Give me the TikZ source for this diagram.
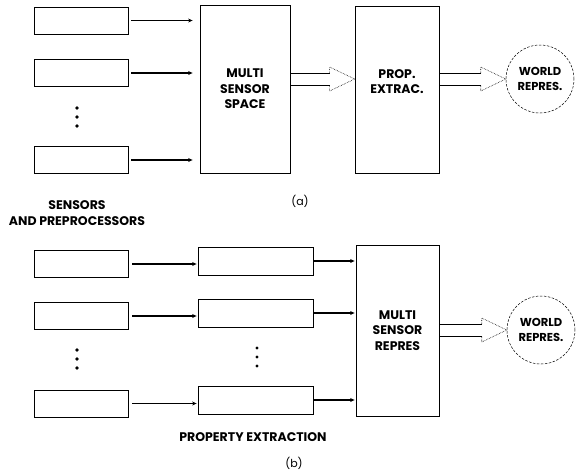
\documentclass[tikz,border=0pt]{standalone}
\usepackage{fontspec}
\setmainfont{Poppins}
\usetikzlibrary{calc,arrows.meta}
\tikzset{
  sensbox/.style={rectangle, draw, line width=0.8pt, minimum width=94pt, minimum height=27pt, inner sep=0pt},
  propbox/.style={rectangle, draw, line width=0.8pt, minimum width=115pt, minimum height=28pt, inner sep=0pt},
  bigbox/.style={rectangle, draw, line width=0.8pt, align=center, font=\fontsize{12.5}{15.5}\selectfont\bfseries, inner sep=0pt},
  worldnode/.style={circle, draw, dashed, dash pattern=on 2.5pt off 1.5pt, line width=0.5pt, minimum size=68pt, align=center, font=\fontsize{11.5}{15}\selectfont\bfseries, inner sep=0pt},
  labeltext/.style={align=center, font=\fontsize{12.5}{16}\selectfont\bfseries, inner sep=0pt},
  capttext/.style={font=\fontsize{11}{12}\selectfont, inner sep=0pt},
  feedarrow/.style={-{Stealth[length=4.5pt,width=4pt]}, line width=1.2pt},
  fatline/.style={line width=0.8pt},
  fathead/.style={line width=0.6pt, densely dotted},
}
% hollow arrow: from #1 to #2 at the height of #3
\newcommand{\fatarrow}[3]{%
  \draw[fatline] ($(#1.east |- #3)+(0,6pt)$) -- ($(#2.west |- #3)+(-25pt,6pt)$);
  \draw[fatline] ($(#1.east |- #3)+(0,-6pt)$) -- ($(#2.west |- #3)+(-25pt,-6pt)$);
  \draw[fathead] ($(#2.west |- #3)+(-25pt,6pt)$) -- ++(0,6pt) -- (#2.west |- #3)
    -- ($(#2.west |- #3)+(-25pt,-12pt)$) -- ++(0,6pt);
}
\begin{document}
\begin{tikzpicture}[x=1pt,y=-1pt]
  \useasboundingbox (0,0) rectangle (579,475);

  % (a)
  \node[sensbox] (s1) at (81,20.5) {};
  \node[sensbox] (s2) at (81,73) {};
  \node[sensbox] (s3) at (81,160) {};
  \foreach \yy in {108,117,126} { \fill (77,\yy) circle (1.8pt); }

  \node[bigbox, minimum width=90pt, minimum height=168pt] (space) at (245,89) {MULTI\\SENSOR\\SPACE};
  \node[bigbox, minimum width=84pt, minimum height=167pt] (prop) at (397,89.5) {PROP.\\EXTRAC.\\\mbox{}};
  \node[worldnode] (world) at (540,79) {WORLD\\REPRES.};

  \foreach \s in {s1,s2,s3} { \draw[feedarrow, shorten <=3pt, shorten >=7pt] (\s.east) -- (\s.east -| space.west); }
  \fatarrow{space}{prop}{world}
  \fatarrow{prop}{world}{world}

  \node[labeltext] (senslabel) at (77,213) {SENSORS\\AND PREPROCESSORS};
  \node[capttext] (capta) at (300,201) {(a)};

  % (b)
  \node[sensbox] (t1) at (81,264) {};
  \node[sensbox] (t2) at (81,316) {};
  \node[sensbox] (t3) at (81,403.5) {};
  \foreach \yy in {350,359,368} { \fill (77,\yy) circle (1.8pt); }

  \node[propbox] (p1) at (255.5,261) {};
  \node[propbox] (p2) at (255.5,313) {};
  \node[propbox] (p3) at (255.5,400) {};
  \foreach \yy in {348,357,366} { \fill (257,\yy) circle (1.6pt); }

  \node[bigbox, minimum width=83pt, minimum height=171pt] (msr) at (397.5,330.5) {MULTI\\SENSOR\\REPRES};
  \node[worldnode] (world2) at (541,330) {WORLD\\REPRES.};

  \foreach \s/\p in {t1/p1,t2/p2,t3/p3} { \draw[feedarrow, shorten <=4pt, shorten >=1pt] (\s.east) -- (\s.east -| \p.west); }
  \foreach \p in {p1,p2,p3} { \draw[feedarrow, shorten >=1pt] (\p.east) -- (\p.east -| msr.west); }
  \fatarrow{msr}{world2}{world2}

  \node[labeltext] (proplabel) at (253,437) {PROPERTY EXTRACTION};
  \node[capttext] (captb) at (294,463) {(b)};
\end{tikzpicture}
\end{document}
